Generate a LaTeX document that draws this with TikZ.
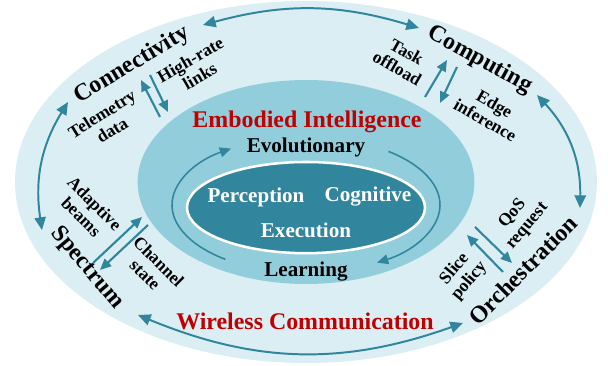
\documentclass[tikz,border=0pt]{standalone}
\usepackage{fontspec}
\setmainfont{Liberation Serif}
\usepackage{tikz}
\usetikzlibrary{arrows.meta,positioning,calc}
\usepackage{xcolor}
\definecolor{ringlight}{HTML}{DAEEF3}
\definecolor{ringmid}{HTML}{92CDDC}
\definecolor{ringdark}{HTML}{31859C}
\definecolor{headred}{HTML}{C00000}

\begin{document}
\begin{tikzpicture}[
    headtip/.style={-{Triangle[length=8pt,width=7pt]}},
    biarc/.style={{Triangle[length=9pt,width=8pt]}-{Triangle[length=9pt,width=8pt]}, draw=ringdark, line width=1.4pt},
    pairflow/.style={headtip, draw=ringdark, line width=1.5pt},
    loopflow/.style={headtip, draw=ringdark, line width=1.1pt},
    arealabel/.style={font=\fontsize{17}{18}\selectfont\bfseries},
    linklabel/.style={font=\fontsize{12.5}{13.5}\selectfont\bfseries, align=center},
    stagelabel/.style={font=\fontsize{15}{17}\selectfont\bfseries},
    headline/.style={font=\fontsize{17}{20}\selectfont\bfseries, text=headred}
  ]
  \useasboundingbox (-7.65,-4.6) rectangle (7.55,4.55);
  % rings
  \fill[ringlight] (0,0) ellipse [x radius=7.275, y radius=4.525];
  \fill[ringmid] (0,0) ellipse [x radius=4.21, y radius=2.55];
  \filldraw[fill=ringdark, draw=white, line width=1.8pt]
    (0,-0.64) ellipse [x radius=2.975, y radius=1.14];

  % inner ring
  \node[headline] (EI) at (0.025,1.5) {Embodied Intelligence};
  \node[stagelabel] (evo) at (0,0.875) {Evolutionary};
  \node[stagelabel] (learn) at (0,-2.25) {Learning};
  \node[stagelabel, text=white] (perc) at (-1.25,-0.375) {Perception};
  \node[stagelabel, text=white] (cogn) at (1.55,-0.375) {Cognitive};
  \node[stagelabel, text=white] (exec) at (0,-1.2) {Execution};
  \coordinate (learn-out) at ($(0,-0.575)+(233:3.35 and 1.7)$);
  \coordinate (evo-out) at ($(0,-0.575)+(52:3.35 and 1.7)$);
  \draw[loopflow] (learn-out) arc[start angle=233, end angle=124, x radius=3.35, y radius=1.7];
  \draw[loopflow] (evo-out) arc[start angle=52, end angle=-58, x radius=3.35, y radius=1.7];

  % outer ring
  \node[headline] (WC) at (-0.025,-3.475) {Wireless Communication};
  \node[arealabel, rotate=31] (conn) at (-4.35,2.925) {Connectivity};
  \node[arealabel, rotate=-29] (comp) at (4.35,3.05) {Computing};
  \node[arealabel, rotate=-50] (spec) at (-5.475,-2.15) {Spectrum};
  \node[arealabel, rotate=45] (orch) at (5.425,-2.2) {Orchestration};

  \node[linklabel, rotate=30] (hrl) at (-2.775,2.85) {High-rate\\links};
  \node[linklabel, rotate=32] (tel) at (-4.975,1.5) {Telemetry\\data};
  \node[linklabel, rotate=-30] (task) at (2.4,3.05) {Task\\offload};
  \node[linklabel, rotate=-30] (edge) at (4.6,1.75) {Edge\\inference};
  \node[linklabel, rotate=-45] (beam) at (-5.45,-0.7) {Adaptive\\beams};
  \node[linklabel, rotate=-45] (chan) at (-3.85,-2.15) {Channel\\state};
  \node[linklabel, rotate=50] (qos) at (5.35,-0.95) {QoS\\request};
  \node[linklabel, rotate=50] (slice) at (3.9,-2.325) {Slice\\policy};

  % arcs between the four areas
  \coordinate (conn-r) at (-2.575,3.925);
  \coordinate (comp-l) at (2.825,3.85);
  \coordinate (comp-b) at (5.775,2.175);
  \coordinate (orch-t) at (6.85,-0.65);
  \coordinate (conn-b) at (-5.95,2.0);
  \coordinate (spec-t) at (-6.6,-1.2);
  \coordinate (spec-r) at (-4.2,-3.325);
  \coordinate (orch-l) at (3.925,-3.525);
  \draw[biarc] (conn-r) to[bend left=16] (comp-l);
  \draw[biarc] (comp-b) to[bend left=22] (orch-t);
  \draw[biarc] (conn-b) to[bend right=20] (spec-t);
  \draw[biarc] (spec-r) to[bend right=21] (orch-l);

  % paired arrows
  \coordinate (conn-up-a) at (-3.65,1.625);
  \coordinate (conn-up-b) at (-4.125,2.55);
  \coordinate (conn-dn-a) at (-3.9,2.675);
  \coordinate (conn-dn-b) at (-3.45,1.75);
  \coordinate (comp-up-a) at (2.975,2.125);
  \coordinate (comp-up-b) at (3.525,3.05);
  \coordinate (comp-dn-a) at (3.775,2.875);
  \coordinate (comp-dn-b) at (3.35,1.975);
  \coordinate (spec-up-a) at (-5.325,-2.025);
  \coordinate (spec-up-b) at (-4.1,-0.875);
  \coordinate (spec-dn-a) at (-3.95,-1.075);
  \coordinate (spec-dn-b) at (-5.15,-2.2);
  \coordinate (orch-up-a) at (4.925,-2.25);
  \coordinate (orch-up-b) at (4.025,-1.325);
  \coordinate (orch-dn-a) at (4.225,-1.125);
  \coordinate (orch-dn-b) at (5.15,-2.025);
  \draw[pairflow] (conn-up-a) -- (conn-up-b);
  \draw[pairflow] (conn-dn-a) -- (conn-dn-b);
  \draw[pairflow] (comp-up-a) -- (comp-up-b);
  \draw[pairflow] (comp-dn-a) -- (comp-dn-b);
  \draw[pairflow] (spec-up-a) -- (spec-up-b);
  \draw[pairflow] (spec-dn-a) -- (spec-dn-b);
  \draw[pairflow] (orch-up-a) -- (orch-up-b);
  \draw[pairflow] (orch-dn-a) -- (orch-dn-b);
\end{tikzpicture}
\end{document}
